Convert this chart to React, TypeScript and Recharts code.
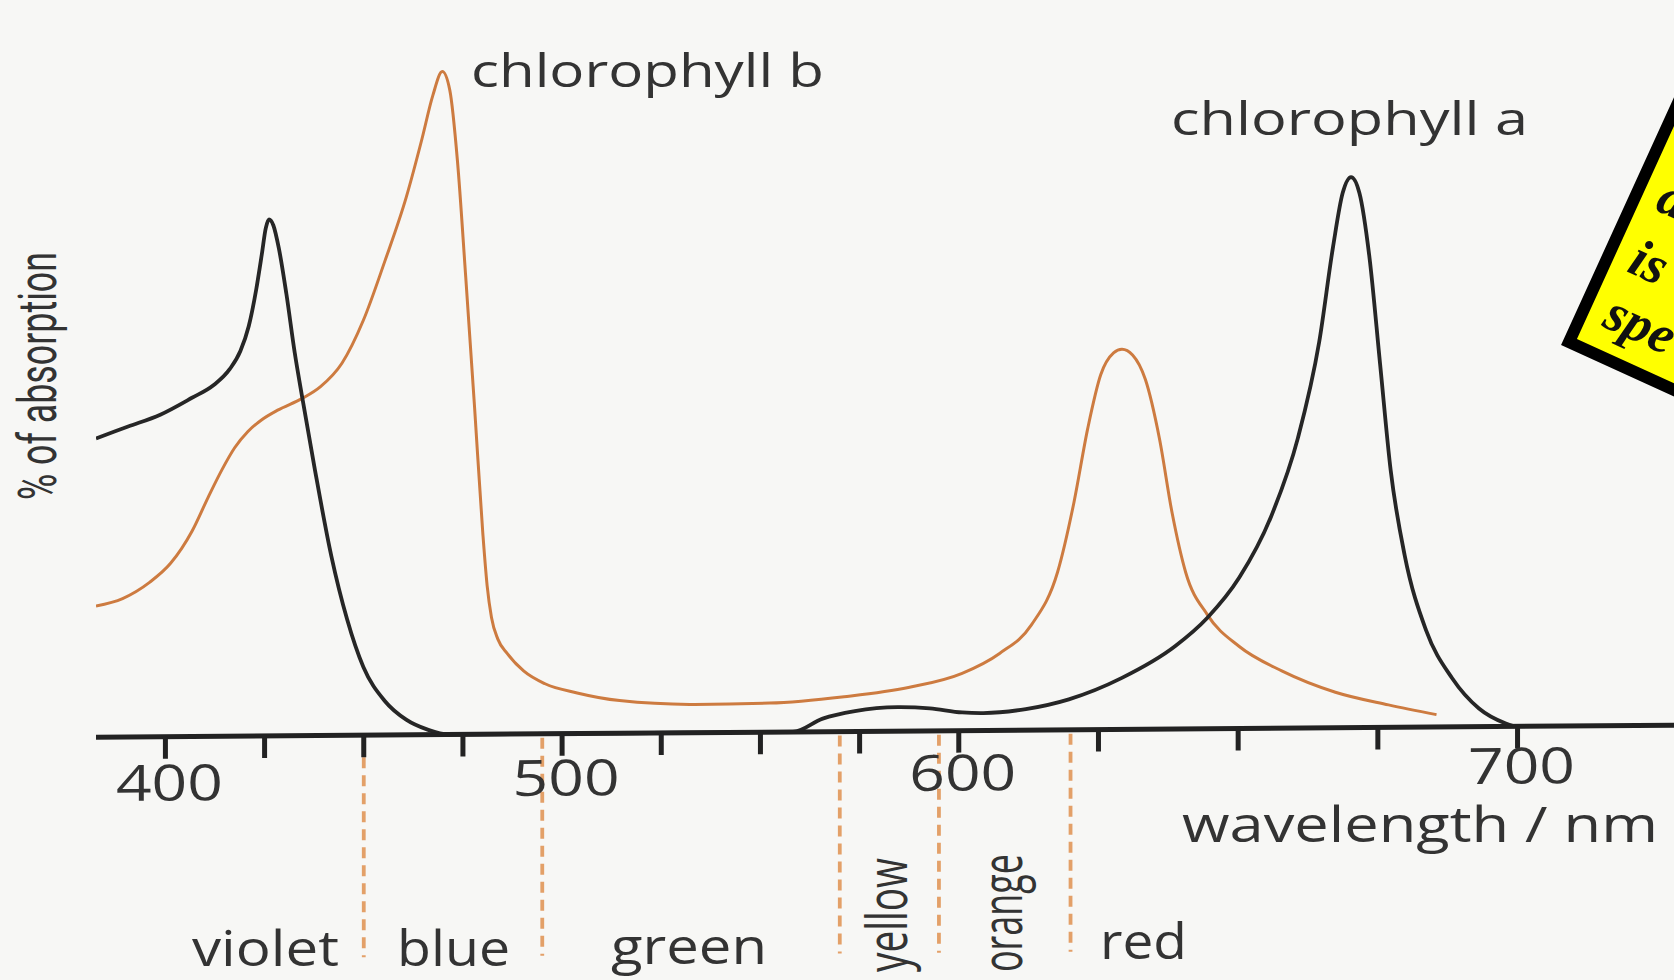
import React from 'react';
import { LineChart, Line, XAxis, YAxis, ReferenceLine } from 'recharts';

// ---- data (wavelength in nm, absorption in % of axis height) ----
const tickWavelengths = [400, 425, 450, 475, 500, 525, 550, 575, 600, 625, 650, 675, 700];
const labelledWavelengths = [400, 500, 600, 700];
const bandBoundaries = [450, 495, 570, 595, 620];
const bandNames = ['violet', 'blue', 'green', 'yellow', 'orange', 'red'];

const chlA_nm = [382.5, 390.6, 398.7, 406.7, 412.1, 416.2, 418.9, 421.0, 422.9, 424.3, 425.3, 426.1, 427.2, 428.6, 430.5, 432.6, 434.5, 437.7, 441.8, 445.8, 449.9, 455.3, 460.7, 466.1, 471.4, 500, 530, 558.2, 565.7, 573.8, 584.6, 592.7, 600.6, 604.4, 612.0, 619.7, 629.2, 638.7, 644.5, 650.2, 655.9, 660.7, 664.5, 667.0, 668.7, 670.2, 671.7, 673.5, 675.4, 677.3, 679.8, 683.6, 688.3, 693.1, 697.9, 699.4];
const chlA_abs = [41.2, 42.8, 44.4, 46.7, 48.4, 50.6, 53.1, 56.5, 61.6, 66.4, 70.0, 71.2, 70.4, 67.2, 60.9, 52.8, 46.6, 36.6, 24.8, 16.0, 9.4, 4.7, 2.1, 0.7, 0, 0, 0, 0, 1.8, 2.8, 3.3, 3.1, 2.5, 2.4, 2.9, 4.2, 7.1, 11.4, 15.3, 20.8, 29.2, 40.0, 53.2, 66.4, 73.7, 75.9, 73.7, 64.8, 50.1, 35.4, 23.7, 13.4, 6.7, 2.5, 0.4, 0];

const chlB_nm = [382.5, 389.2, 396.0, 401.3, 406.7, 410.8, 414.3, 417.5, 420.8, 424.3, 428.3, 434.5, 439.1, 444.5, 449.9, 455.3, 460.7, 464.7, 467.4, 469.8, 471.7, 473.6, 475.7, 477.9, 480.0, 481.1, 482.2, 483.8, 486.2, 490.3, 495.7, 503.8, 514.5, 533.4, 552.3, 571.1, 587.3, 600.6, 607.3, 613.0, 617.7, 620.6, 623.1, 625.4, 627.7, 629.2, 631.1, 633.4, 635.9, 638.2, 640.6, 644.5, 650.2, 657.8, 667.4, 676.9, 685.5];
const chlB_abs = [18.1, 19.1, 21.3, 23.9, 28.3, 33.0, 36.8, 39.8, 42.0, 43.6, 44.9, 46.5, 48.1, 51.3, 57.2, 65.3, 74.1, 82.2, 88.1, 91.4, 88.8, 79.2, 63.1, 45.4, 27.8, 20.5, 16.1, 13.1, 11.1, 8.7, 6.9, 5.6, 4.5, 3.9, 4.0, 4.8, 6.0, 7.9, 10.6, 14.5, 21.8, 31.3, 41.6, 48.9, 51.9, 52.4, 51.6, 48.2, 40.1, 29.7, 21.6, 15.7, 11.3, 7.9, 4.9, 3.1, 1.7];

const axisStartNm = 382.5;
const axisEndNm = 728;

// The printed axis is drawn wider above 600 nm than below it.
const RIGHT_STRETCH = 131 / 93;
const pos = (nm: number) => (nm <= 600 ? (nm - 400) / 25 : 8 + ((nm - 600) / 25) * RIGHT_STRETCH);
const nmFromPos = (p: number) => (p <= 8 ? 400 + p * 25 : 600 + ((p - 8) / RIGHT_STRETCH) * 25);

const chlAData = chlA_nm.map((nm, i) => ({ pos: pos(nm), v: chlA_abs[i] }));
const chlBData = chlB_nm.map((nm, i) => ({ pos: pos(nm), v: chlB_abs[i] }));
const tickPositions = tickWavelengths.map(pos);

const FONT = "'Open Sans', 'Noto Sans', sans-serif";
const TEXT = '#333333';

const WaveTick = (props: any) => {
  const { x, y, payload } = props;
  const nm = Math.round(nmFromPos(payload.value));
  if (!labelledWavelengths.includes(nm)) return <g />;
  return (
    <text x={x + 4} y={y + 40 - (x - 166) * 0.005} textAnchor="middle" fontFamily={FONT} fontSize={50} fill={TEXT}
      textLength={107} lengthAdjust="spacingAndGlyphs">
      {nm}
    </text>
  );
};

const BandBoundary = (props: any) => {
  const { x1, y1, y2 } = props;
  const bottom = Math.max(Number(y1), Number(y2));
  return (
    <line x1={x1} x2={x1} y1={bottom + 4} y2={bottom + 222} stroke="#e3a068" strokeWidth={3.8}
      strokeDasharray="11 7" />
  );
};

export default function App() {
  return (
    <div style={{ position: 'absolute', left: 0, top: 0, width: 1674, height: 980, background: '#f7f7f5', overflow: 'hidden' }}>
      <div style={{ position: 'absolute', left: 0, top: 0, transform: 'skewY(-0.44deg)', transformOrigin: '0 0' }}>
        <LineChart width={1674} height={980} margin={{ top: 9, right: 0, bottom: 182, left: 96 }}>
          <XAxis type="number" dataKey="pos" domain={[pos(axisStartNm), pos(axisEndNm)]} allowDataOverflow
            ticks={tickPositions} interval={0} height={60} tickSize={22} tickMargin={2}
            tick={<WaveTick />} axisLine={{ stroke: '#222', strokeWidth: 5 }}
            tickLine={{ stroke: '#222', strokeWidth: 5 }} />
          <YAxis type="number" domain={[0, 100.5]} width={0} tick={false} tickLine={false}
            axisLine={{ stroke: '#222', strokeWidth: 5 }} />
          {bandBoundaries.map((nm) => (
            <ReferenceLine key={nm} x={pos(nm)} stroke="#e3a068" shape={<BandBoundary />} />
          ))}
          <Line data={chlBData} dataKey="v" type="monotone" stroke="#cd7b40" strokeWidth={3}
            dot={false} activeDot={false} isAnimationActive={false} />
          <Line data={chlAData} dataKey="v" type="monotone" stroke="#262626" strokeWidth={3.8}
            dot={false} activeDot={false} isAnimationActive={false} />
        </LineChart>
      </div>
      <svg width={1674} height={980} style={{ position: 'absolute', left: 0, top: 0, pointerEvents: 'none' }}>
        <text x={471} y={87} fontFamily={FONT} fontSize={46} fill={TEXT} textLength={353} lengthAdjust="spacingAndGlyphs">chlorophyll b</text>
        <text x={1171} y={135} fontFamily={FONT} fontSize={46} fill={TEXT} textLength={357} lengthAdjust="spacingAndGlyphs">chlorophyll a</text>
        <text x={1182} y={842} fontFamily={FONT} fontSize={50} fill={TEXT} textLength={476} lengthAdjust="spacingAndGlyphs">wavelength / nm</text>
        <text transform="translate(56,500) rotate(-90)" fontFamily="Roboto, sans-serif" fontSize={53} fill={TEXT}
          textLength={248} lengthAdjust="spacingAndGlyphs">% of absorption</text>

        <text x={192} y={966} fontFamily={FONT} fontSize={50} fill={TEXT} textLength={147} lengthAdjust="spacingAndGlyphs">{bandNames[0]}</text>
        <text x={397} y={966} fontFamily={FONT} fontSize={50} fill={TEXT} textLength={113} lengthAdjust="spacingAndGlyphs">{bandNames[1]}</text>
        <text x={611} y={964} fontFamily={FONT} fontSize={50} fill={TEXT} textLength={156} lengthAdjust="spacingAndGlyphs">{bandNames[2]}</text>
        <text transform="translate(907,972) rotate(-90)" fontFamily={FONT} fontSize={57} fill={TEXT} textLength={114} lengthAdjust="spacingAndGlyphs">{bandNames[3]}</text>
        <text transform="translate(1022,972) rotate(-90)" fontFamily={FONT} fontSize={57} fill={TEXT} textLength={118} lengthAdjust="spacingAndGlyphs">{bandNames[4]}</text>
        <text x={1100} y={959} fontFamily={FONT} fontSize={50} fill={TEXT} textLength={87} lengthAdjust="spacingAndGlyphs">{bandNames[5]}</text>

        <g transform="translate(1569,342) rotate(24.5)">
          <rect x={0} y={-520} width={520} height={520} fill="#ffff00" stroke="#000" strokeWidth={12} />
          <g fontFamily="'Liberation Serif', 'DejaVu Serif', serif" fontStyle="italic" fontWeight="bold" fontSize={54} fill="#111">
            <text x={22} y={-156}>a</text>
            <text x={22} y={-88}>is</text>
            <text x={22} y={-28}>spe</text>
          </g>
        </g>
      </svg>
    </div>
  );
}
